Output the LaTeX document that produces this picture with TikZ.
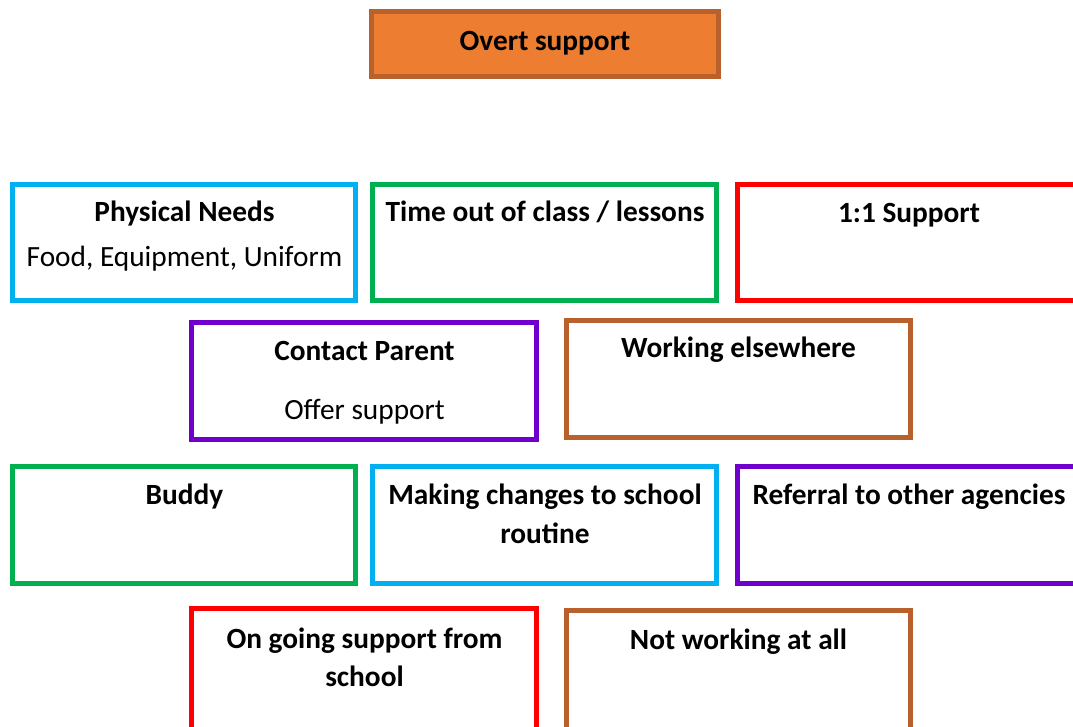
\documentclass[tikz,border=0pt]{standalone}
\usepackage{fontspec}
\setmainfont{Carlito}
\definecolor{cCyan}{HTML}{00B0F0}
\definecolor{cGreen}{HTML}{00B050}
\definecolor{cRed}{HTML}{FF0000}
\definecolor{cPurple}{HTML}{7000CC}
\definecolor{cBrown}{HTML}{B8612D}
\definecolor{cOrange}{HTML}{ED7D31}
\begin{document}
\begin{tikzpicture}[x=0.75pt,y=-0.75pt,
  box/.style={draw=#1,line width=3.75pt,fill=white},
  txt/.style={anchor=base,inner sep=0pt,font=\fontsize{22}{26}\selectfont},
  btxt/.style={txt,font=\fontsize{22}{26}\selectfont\bfseries}]
\useasboundingbox (0,0) rectangle (1073,727);
\clip (0,0) rectangle (1073,727);
% top box
\draw[draw=cBrown,fill=cOrange,line width=3.75pt] (371.5,11.5) rectangle (718.5,76.5);
\node[btxt] (overt) at (545,51) {Overt support};
% row 1
\draw[box=cCyan] (12.5,184.5) rectangle (355.5,300.5);
\draw[box=cGreen] (372.5,184.5) rectangle (716.5,300.5);
\draw[box=cRed] (737.5,184.5) rectangle (1080.5,300.5);
\node[btxt] (pn) at (184.5,221.5) {Physical Needs};
\node[txt] (pnsub) at (184.5,267) {Food, Equipment, Uniform};
\node[btxt] (tout) at (545,221.5) {Time out of class / lessons};
\node[btxt] (one) at (909,223) {1:1 Support};
% row 2
\draw[box=cPurple] (191.5,322.5) rectangle (536.5,439.5);
\draw[box=cBrown] (566.5,320.5) rectangle (910.5,437.5);
\node[btxt] (cp) at (364.5,360.5) {Contact Parent};
\node[txt] (cpsub) at (364.5,419.5) {Offer support};
\node[btxt] (we) at (738.5,357.5) {Working elsewhere};
% row 3
\draw[box=cGreen] (12.5,466.5) rectangle (355.5,583.5);
\draw[box=cCyan] (372.5,466.5) rectangle (716.5,583.5);
\draw[box=cPurple] (737.5,466.5) rectangle (1080.5,583.5);
\node[btxt] (bud) at (184.5,504.5) {Buddy};
\node[btxt] (mc1) at (545,504.5) {Making changes to school};
\node[btxt] (mc2) at (545,543.5) {routine};
\node[btxt] (ref) at (909,504.5) {Referral to other agencies};
% row 4
\draw[box=cRed] (191.5,608.5) rectangle (536.5,740);
\draw[box=cBrown] (566.5,610.5) rectangle (910.5,740);
\node[btxt] (og1) at (364.5,648) {On going support from};
\node[btxt] (og2) at (364.5,686.5) {school};
\node[btxt] (nw) at (738.5,649.5) {Not working at all};
\end{tikzpicture}
\end{document}
